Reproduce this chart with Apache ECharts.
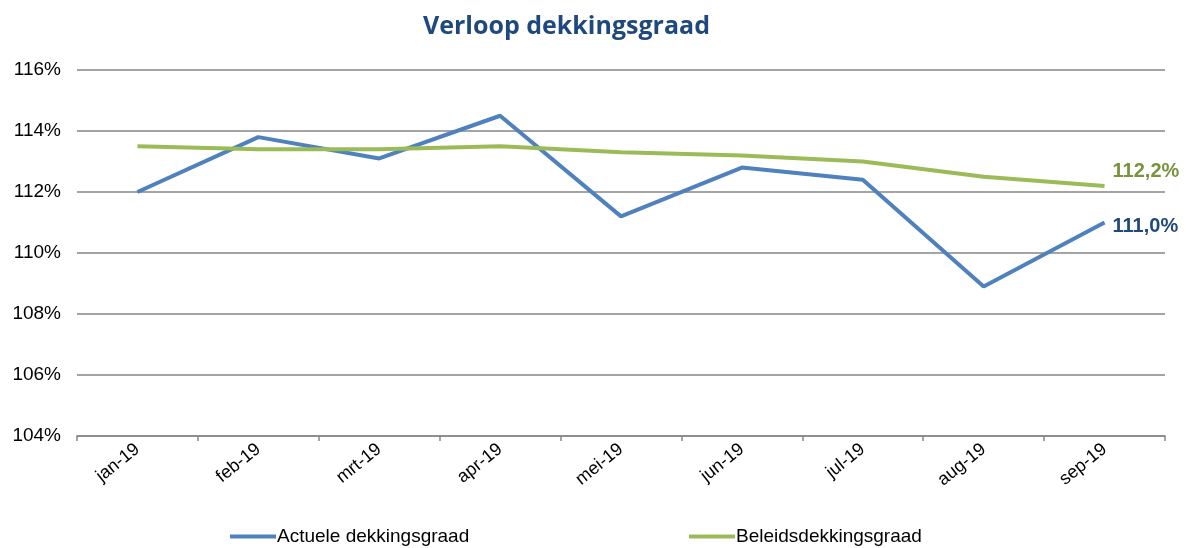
<!DOCTYPE html>
<html>
<head>
<meta charset="utf-8">
<script src="https://cdn.jsdelivr.net/npm/echarts@6/dist/echarts.min.js"></script>
<style>html,body{margin:0;padding:0;background:#fff}#c{width:1192px;height:548px}</style>
</head>
<body>
<div id="c"></div>
<script>
var categories = ['jan-19','feb-19','mrt-19','apr-19','mei-19','jun-19','jul-19','aug-19','sep-19'];
var actueel = [112.0, 113.8, 113.1, 114.5, 111.2, 112.8, 112.4, 108.9, 111.0];
var beleid = [113.5, 113.4, 113.4, 113.5, 113.3, 113.2, 113.0, 112.5, 112.2];
var yTicks = [104, 106, 108, 110, 112, 114, 116];

function fmt(v){ return v.toFixed(1).replace('.', ',') + '%'; }

var chart = echarts.init(document.getElementById('c'));
chart.setOption({
  animation: false,
  title: {
    text: 'Verloop dekkingsgraad',
    left: 418, top: 9,
    textStyle: {fontFamily: 'Open Sans', fontWeight: 'bold', fontSize: 25, color: '#1F497D'}
  },
  legend: [{
    data: ['Actuele dekkingsgraad'],
    left: 225, bottom: -3,
    itemWidth: 46, itemHeight: 4,
    icon: 'rect',
    textStyle: {fontFamily: 'Liberation Sans', fontSize: 19, color: '#000', padding: [0,0,0,-4]}
  },{
    data: ['Beleidsdekkingsgraad'],
    left: 684, bottom: -3,
    itemWidth: 46, itemHeight: 4,
    icon: 'rect',
    textStyle: {fontFamily: 'Liberation Sans', fontSize: 19, color: '#000', padding: [0,0,0,-4]}
  }],
  grid: {left: 77, right: 27, top: 70, bottom: 112},
  xAxis: {
    type: 'category',
    data: categories,
    boundaryGap: true,
    axisLine: {lineStyle: {color: '#868686', width: 1.5}},
    axisTick: {show: true, length: 5, lineStyle: {color: '#868686', width: 1.5}},
    axisLabel: {rotate: 39, margin: 11, fontFamily: 'Liberation Sans', fontSize: 18, color: '#000'}
  },
  yAxis: {
    type: 'value',
    min: yTicks[0], max: yTicks[yTicks.length-1], interval: 2,
    axisLine: {show: false},
    axisTick: {show: false},
    splitLine: {lineStyle: {color: '#868686', width: 1.5}},
    axisLabel: {formatter: '{value}%', margin: 16, fontFamily: 'Liberation Sans', fontSize: 19, color: '#000'}
  },
  series: [{
    name: 'Actuele dekkingsgraad',
    type: 'line',
    data: actueel,
    symbol: 'none',
    color: '#4F81BD',
    lineStyle: {width: 4, color: '#4F81BD'},
    endLabel: {show: true, formatter: function(p){return fmt(p.value);}, distance: 8, offset: [0, 4],
      fontFamily: 'Liberation Sans', fontWeight: 'bold', fontSize: 20, color: '#1F497D'}
  },{
    name: 'Beleidsdekkingsgraad',
    type: 'line',
    data: beleid,
    symbol: 'none',
    color: '#9BBB59',
    lineStyle: {width: 4, color: '#9BBB59'},
    endLabel: {show: true, formatter: function(p){return fmt(p.value);}, distance: 8, offset: [0, -14],
      fontFamily: 'Liberation Sans', fontWeight: 'bold', fontSize: 20, color: '#77933C'}
  }]
});
</script>
</body>
</html>
